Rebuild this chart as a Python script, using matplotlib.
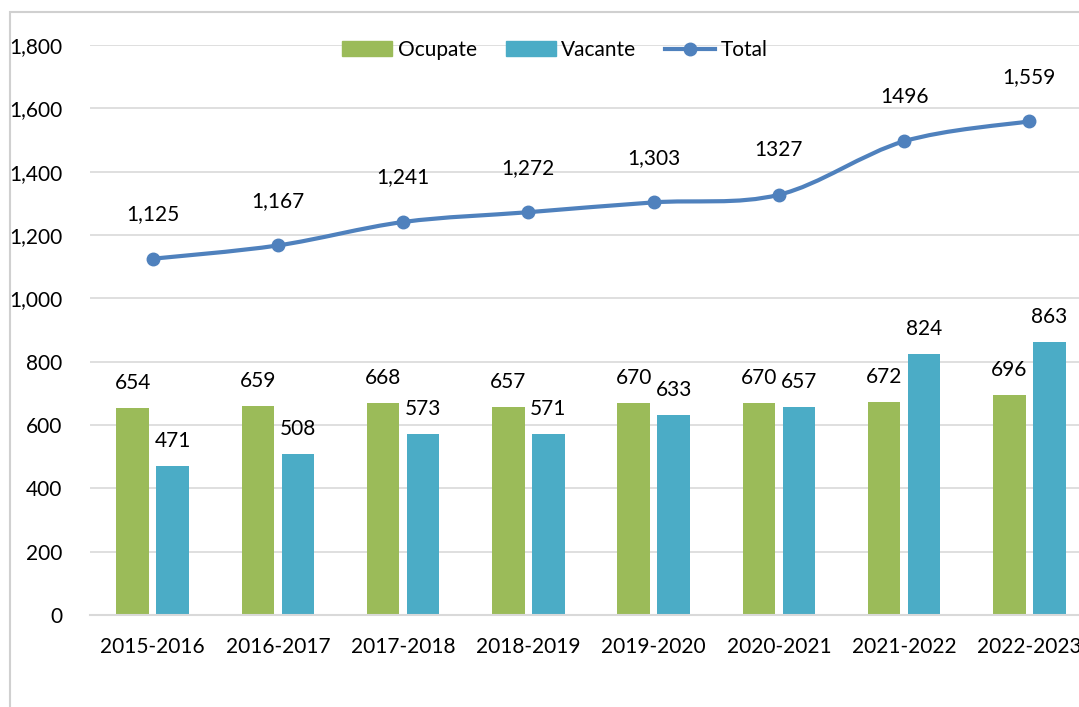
import matplotlib
matplotlib.use('Agg')
import matplotlib.pyplot as plt
import numpy as np
from matplotlib.path import Path
from matplotlib.patches import PathPatch, Rectangle
from matplotlib.lines import Line2D

plt.rcParams['font.family'] = ['Lato', 'DejaVu Sans']

years = ['2015-2016', '2016-2017', '2017-2018', '2018-2019',
         '2019-2020', '2020-2021', '2021-2022', '2022-2023']
ocupate = [654, 659, 668, 657, 670, 670, 672, 696]
vacante = [471, 508, 573, 571, 633, 657, 824, 863]
total = [1125, 1167, 1241, 1272, 1303, 1327, 1496, 1559]
total_labels = ['1,125', '1,167', '1,241', '1,272', '1,303', '1327', '1496', '1,559']

green = '#9BBB59'
blue = '#4BACC6'
line_blue = '#4F81BD'
grid = '#D9D9D9'
fs = 15

fig = plt.figure(figsize=(10.79, 7.07), dpi=100)
ax = fig.add_axes([90 / 1079, 1 - 615 / 707, 1002 / 1079, 570 / 707])

x = np.arange(len(years))
w = 0.26
ax.bar(x - 0.16, ocupate, w, color=green, zorder=2)
ax.bar(x + 0.16, vacante, w, color=blue, zorder=2)

for xi, v in zip(x, ocupate):
    ax.annotate(str(v), (xi - 0.16, v), xytext=(0, 18), textcoords='offset points',
                ha='center', va='center', fontsize=fs)
for xi, v in zip(x, vacante):
    ax.annotate(str(v), (xi + 0.16, v), xytext=(0, 18), textcoords='offset points',
                ha='center', va='center', fontsize=fs)

# smoothed line (Excel-style), bezier through the data points
pts = np.column_stack([x, total]).astype(float)
verts = [pts[0]]
codes = [Path.MOVETO]
n = len(pts)
for i in range(n - 1):
    p0 = pts[i - 1] if i > 0 else pts[i]
    p1 = pts[i]
    p2 = pts[i + 1]
    p3 = pts[i + 2] if i + 2 < n else pts[i + 1]
    c1 = p1 + (p2 - p0) / 6
    c2 = p2 - (p3 - p1) / 6
    verts += [c1, c2, p2]
    codes += [Path.CURVE4] * 3
ax.add_patch(PathPatch(Path(verts, codes), fill=False, edgecolor=line_blue,
                       lw=3, zorder=3, capstyle='round'))
ax.plot(x, total, 'o', color=line_blue, markersize=9, zorder=4)
for xi, v, lab in zip(x, total, total_labels):
    ax.annotate(lab, (xi, v), xytext=(0, 32), textcoords='offset points',
                ha='center', va='center', fontsize=fs)

ax.set_xlim(-0.5, len(years) - 0.5)
ax.set_ylim(0, 1800)
ax.set_yticks(range(0, 1801, 200))
ax.set_yticklabels(['{:,}'.format(v) for v in range(0, 1801, 200)], fontsize=fs)
ax.set_xticks(x)
ax.set_xticklabels(years, fontsize=fs)
ax.tick_params(axis='both', length=0)
ax.tick_params(axis='y', pad=20)
ax.tick_params(axis='x', pad=16)
ax.yaxis.grid(True, color=grid, lw=1.2, zorder=0)
for s in ['top', 'right', 'left']:
    ax.spines[s].set_visible(False)
ax.spines['bottom'].set_color(grid)
ax.spines['bottom'].set_linewidth(1.5)

handles = [Rectangle((0, 0), 1, 1, color=green),
           Rectangle((0, 0), 1, 1, color=blue),
           Line2D([], [], color=line_blue, lw=3, marker='o', markersize=9)]
fig.legend(handles, ['Ocupate', 'Vacante', 'Total'], loc='center',
           bbox_to_anchor=(555 / 1079, 1 - 50 / 707), ncol=3, frameon=False,
           fontsize=fs, handlelength=2.4, handletextpad=0.25, columnspacing=1.4)

# outer chart frame (partially visible)
fig.add_artist(Rectangle((10 / 1079, -0.1), 1.2, 1 - 12 / 707 + 0.1,
                         transform=fig.transFigure, fill=False,
                         edgecolor='#D0D0D0', lw=1.5))

fig.savefig('out.png', dpi=100)
